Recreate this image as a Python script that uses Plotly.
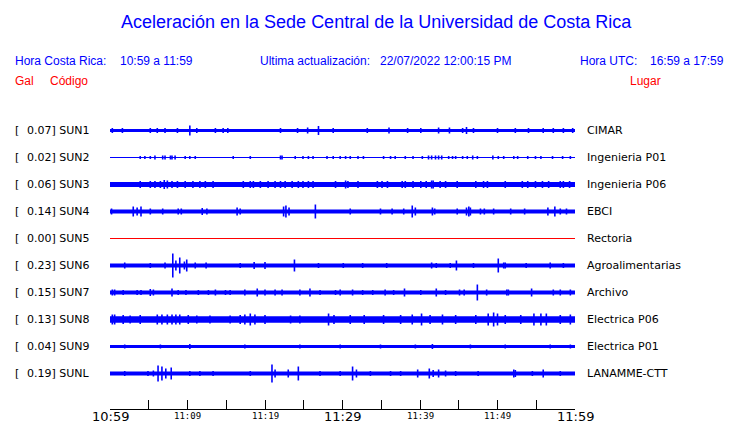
import plotly.graph_objects as go

# estaciones (de arriba hacia abajo)
codigos = ['SUN1', 'SUN2', 'SUN3', 'SUN4', 'SUN5', 'SUN6', 'SUN7', 'SUN8', 'SUN9', 'SUNL']
lugares = ['CIMAR', 'Ingenieria P01', 'Ingenieria P06', 'EBCI', 'Rectoria',
           'Agroalimentarias', 'Archivo', 'Electrica P06', 'Electrica P01', 'LANAMME-CTT']
pico_gal = [0.07, 0.02, 0.06, 0.14, 0.00, 0.23, 0.15, 0.13, 0.04, 0.19]
colores = ['blue', 'blue', 'blue', 'blue', 'red', 'blue', 'blue', 'blue', 'blue', 'blue']

# nivel de ruido de fondo (amplitud aprox., Gal)
ruido = [0.03, 0.008, 0.05, 0.04, 0.0, 0.04, 0.04, 0.065, 0.03, 0.04]

t_sun1 = [0.3, 1.6, 5.2, 6.1, 7.1, 8.7, 10.3, 11.2, 13.6, 14.6, 15.2, 22.0, 24.2, 25.5, 26.9,
          28.8, 33.2, 36.0, 38.4, 40.1, 42.4, 43.8, 45.5, 46.0, 46.9, 50.0, 52.3, 54.0, 55.9,
          57.2, 58.5, 59.7]
a_sun1 = [0.05, 0.05, 0.05, 0.05, 0.05, 0.05, 0.10, 0.05, 0.05, 0.05, 0.05, 0.05, 0.05, 0.06, 0.09,
          0.05, 0.05, 0.06, 0.05, 0.05, 0.06, 0.06, 0.05, 0.07, 0.05, 0.05, 0.05, 0.05, 0.05,
          0.05, 0.05, 0.05]

t_sun2 = [3.9, 4.5, 5.2, 5.8, 6.8, 7.1, 7.8, 8.0, 8.4, 9.7, 10.3, 11.0, 15.9, 18.1, 22.0, 22.2,
          23.9, 24.9, 25.6, 26.2, 28.0, 28.8, 29.7, 30.4, 31.0, 32.0, 32.7, 35.3, 36.2, 36.8,
          38.1, 39.1, 40.3, 41.1, 41.5, 42.0, 42.4, 42.8, 43.7, 44.2, 44.6, 45.5, 46.1, 46.8,
          47.4, 49.4, 50.1, 50.8, 52.1, 52.6, 53.9, 54.9, 55.6, 57.1, 58.4, 59.4]
a_sun2 = [0.03, 0.03, 0.03, 0.04, 0.04, 0.04, 0.04, 0.04, 0.04, 0.03, 0.03, 0.03, 0.03, 0.03, 0.04, 0.04,
          0.03, 0.03, 0.03, 0.03, 0.03, 0.03, 0.03, 0.03, 0.03, 0.03, 0.03, 0.03, 0.03, 0.03,
          0.03, 0.03, 0.03, 0.04, 0.04, 0.04, 0.04, 0.04, 0.03, 0.03, 0.03, 0.03, 0.03, 0.04,
          0.03, 0.04, 0.03, 0.03, 0.03, 0.03, 0.03, 0.03, 0.03, 0.03, 0.03, 0.03]

t_sun3 = [3.9, 5.2, 5.8, 6.5, 7.0, 7.4, 8.0, 8.7, 9.7, 10.7, 11.6, 12.3, 13.3, 17.2, 18.1, 18.5,
          19.4, 20.4, 21.3, 22.0, 22.6, 23.5, 24.3, 24.9, 25.6, 26.2, 29.1, 30.4, 30.7, 32.0,
          34.5, 35.1, 35.8, 37.7, 38.1, 39.1, 40.1, 40.8, 41.5, 41.7, 42.6, 43.3, 44.8, 47.2,
          48.2, 48.7, 51.0, 53.2, 53.9, 54.9, 55.8, 56.6, 58.1, 58.5, 59.3]
a_sun3 = [0.07, 0.07, 0.07, 0.07, 0.09, 0.08, 0.07, 0.07, 0.07, 0.07, 0.07, 0.07, 0.07, 0.07, 0.07, 0.07,
          0.07, 0.07, 0.07, 0.07, 0.07, 0.07, 0.07, 0.07, 0.07, 0.07, 0.07, 0.08, 0.07, 0.07,
          0.07, 0.07, 0.07, 0.07, 0.07, 0.07, 0.07, 0.07, 0.08, 0.08, 0.07, 0.07, 0.07, 0.07,
          0.07, 0.07, 0.07, 0.07, 0.07, 0.07, 0.07, 0.07, 0.07, 0.07, 0.07]

t_sun4 = [0.2, 3.0, 3.5, 4.0, 5.2, 6.8, 8.8, 9.2, 11.9, 12.5, 16.4, 16.8, 22.4, 22.7, 23.1, 26.5,
          31.0, 34.9, 36.4, 37.9, 39.0, 39.4, 41.6, 41.9, 44.8, 46.0, 46.3, 46.5, 47.8, 48.3,
          49.5, 51.7, 53.5, 56.5, 57.4, 58.1, 58.9]
a_sun4 = [0.06, 0.10, 0.08, 0.10, 0.06, 0.06, 0.06, 0.06, 0.07, 0.06, 0.08, 0.06, 0.10, 0.12, 0.08, 0.14,
          0.06, 0.06, 0.06, 0.06, 0.12, 0.08, 0.08, 0.06, 0.06, 0.08, 0.10, 0.08, 0.06, 0.06,
          0.06, 0.06, 0.06, 0.08, 0.10, 0.06, 0.06]

t_sun5 = []
a_sun5 = []

t_sun6 = [1.9, 5.2, 7.1, 8.1, 8.5, 9.0, 9.6, 9.9, 11.0, 12.4, 16.8, 18.6, 20.0, 23.8, 26.9, 30.1,
          32.6, 35.7, 41.5, 42.1, 43.9, 44.7, 46.9, 50.1, 50.8, 51.0, 53.7, 56.8, 58.5]
a_sun6 = [0.06, 0.05, 0.06, 0.24, 0.10, 0.16, 0.08, 0.12, 0.06, 0.06, 0.05, 0.07, 0.07, 0.12, 0.05, 0.05,
          0.05, 0.05, 0.06, 0.05, 0.05, 0.10, 0.05, 0.14, 0.06, 0.06, 0.05, 0.06, 0.05]

t_sun7 = [0.3, 0.6, 1.7, 3.5, 4.0, 5.2, 5.6, 8.0, 8.8, 9.8, 11.4, 12.7, 13.6, 14.9, 15.5, 17.4,
          19.0, 20.0, 21.3, 22.2, 24.5, 25.8, 27.1, 29.1, 29.7, 31.3, 32.6, 33.9, 35.5, 36.6,
          38.0, 40.1, 42.1, 43.3, 45.1, 45.7, 47.4, 48.6, 51.2, 51.4, 54.4, 57.2, 58.1, 59.4]
a_sun7 = [0.06, 0.06, 0.05, 0.05, 0.05, 0.07, 0.06, 0.08, 0.05, 0.05, 0.05, 0.05, 0.06, 0.05, 0.05, 0.06,
          0.08, 0.06, 0.06, 0.06, 0.06, 0.08, 0.05, 0.05, 0.06, 0.06, 0.05, 0.05, 0.06, 0.05,
          0.08, 0.05, 0.08, 0.05, 0.06, 0.06, 0.16, 0.06, 0.06, 0.06, 0.08, 0.06, 0.06, 0.06]

t_sun8 = [0.3, 0.6, 1.7, 2.6, 3.9, 6.1, 6.7, 7.4, 8.0, 8.5, 9.0, 10.1, 11.2, 12.9, 15.5, 16.8,
          17.4, 18.1, 18.7, 20.0, 23.3, 24.5, 28.2, 28.9, 31.0, 32.8, 35.3, 37.5, 39.0, 40.2,
          41.3, 42.9, 44.6, 47.2, 48.8, 49.5, 50.0, 51.0, 53.0, 54.7, 55.6, 56.3, 58.1, 59.4]
a_sun8 = [0.10, 0.10, 0.09, 0.08, 0.09, 0.10, 0.10, 0.10, 0.10, 0.10, 0.10, 0.09, 0.08, 0.08, 0.08, 0.09,
          0.10, 0.12, 0.10, 0.09, 0.08, 0.08, 0.12, 0.09, 0.09, 0.09, 0.09, 0.09, 0.10, 0.12,
          0.09, 0.10, 0.09, 0.09, 0.12, 0.14, 0.12, 0.09, 0.09, 0.12, 0.12, 0.12, 0.09, 0.10]

t_sun9 = [1.9, 6.5, 10.3, 17.4, 24.5, 29.7, 34.9, 39.4, 41.6, 46.5, 51.0, 56.8, 59.4]
a_sun9 = [0.04, 0.04, 0.05, 0.04, 0.04, 0.04, 0.04, 0.04, 0.05, 0.04, 0.04, 0.04, 0.04]

t_sunl = [1.9, 4.9, 5.6, 6.2, 6.7, 7.2, 7.9, 10.3, 11.6, 13.3, 18.1, 20.9, 21.3, 23.0, 24.3, 27.1,
          29.7, 31.3, 31.8, 33.6, 36.2, 37.5, 39.7, 41.2, 41.7, 42.4, 43.3, 44.6, 47.5, 52.1,
          52.3, 54.5, 55.9, 58.1]
a_sunl = [0.05, 0.05, 0.06, 0.16, 0.14, 0.10, 0.12, 0.05, 0.05, 0.05, 0.05, 0.18, 0.08, 0.08, 0.14, 0.05,
          0.05, 0.14, 0.08, 0.05, 0.05, 0.05, 0.08, 0.10, 0.07, 0.08, 0.06, 0.05, 0.05, 0.08,
          0.07, 0.05, 0.08, 0.05]

eventos_t = [t_sun1, t_sun2, t_sun3, t_sun4, t_sun5, t_sun6, t_sun7, t_sun8, t_sun9, t_sunl]
eventos_a = [a_sun1, a_sun2, a_sun3, a_sun4, a_sun5, a_sun6, a_sun7, a_sun8, a_sun9, a_sunl]

minutos = [0, 5, 10, 15, 20, 25, 30, 35, 40, 45, 50, 55, 60]
etiquetas = ['10:59', '', '11:09', '', '11:19', '', '11:29', '', '11:39', '', '11:49', '', '11:59']
etiqueta_grande = ['10:59', '11:29', '11:59']

GANANCIA = 1.85   # filas por Gal
T0, T1 = 0, 60

# geometria en pixeles de pantalla (la pagina agrega 8px de margen)
OFF = 8
W, H = 740 - OFF, 423 - OFF
L, R, T, B = 110, 575, 103, 409
FILA = 27
MEDIO = 0.5 / FILA   # centra las lineas de 1px en una fila de pixeles
PAD = 2              # relleno interno de las anotaciones


def px_x(px):
    return (px - L) / (R - L)


def px_y(py):
    return (B - py) / (B - T)


fig = go.Figure()

for i, cod in enumerate(codigos):
    c = i + 1 + MEDIO
    col = colores[i]
    b = ruido[i] * GANANCIA
    if b > 0:
        fig.add_trace(go.Scatter(
            x=[T0, T1, T1, T0], y=[c - b, c - b, c + b, c + b],
            fill='toself', fillcolor=col, mode='lines', line=dict(width=0),
            hoverinfo='skip', showlegend=False,
        ))
    fig.add_trace(go.Scatter(
        x=[T0, T1], y=[c, c], mode='lines', line=dict(color=col, width=1),
        hoverinfo='skip', showlegend=False,
    ))
    xs, ys = [], []
    for t, a in zip(eventos_t[i], eventos_a[i]):
        xs += [t, t, None]
        ys += [c - a * GANANCIA, c + a * GANANCIA, None]
    if xs:
        fig.add_trace(go.Scatter(
            x=xs, y=ys, mode='lines', line=dict(color=col, width=1.6),
            hoverinfo='skip', showlegend=False,
        ))

ann = []
for i, cod in enumerate(codigos):
    yy = px_y(130 + FILA * i)
    ann.append(dict(x=px_x(15 - PAD), y=yy, text='[', xanchor='left'))
    ann.append(dict(x=px_x(27 - PAD), y=yy, text='%.2f] %s' % (pico_gal[i], cod), xanchor='left'))
    ann.append(dict(x=px_x(587 - PAD), y=yy, text=lugares[i], xanchor='left'))
for a in ann:
    a.update(xref='paper', yref='paper', yanchor='middle', showarrow=False,
             font=dict(family='DejaVu Sans', size=11, color='black'))

# etiquetas del eje de tiempo
for m, lab in zip(minutos, etiquetas):
    if not lab:
        continue
    grande = lab in etiqueta_grande
    ann.append(dict(x=m, xref='x', y=px_y(416), yref='paper', text=lab, showarrow=False,
                    xanchor='center', yanchor='middle',
                    font=dict(family='DejaVu Sans' if grande else 'DejaVu Sans Mono',
                              size=13 if grande else 9, color='black')))

azul = '#0000ff'
rojo = '#ff0000'
encabezado = [
    (15, 61, 'Hora Costa Rica:', azul),
    (120, 61, '10:59 a 11:59', azul),
    (260, 61, 'Ultima actualización:', azul),
    (380, 61, '22/07/2022 12:00:15 PM', azul),
    (580, 61, 'Hora UTC:', azul),
    (650, 61, '16:59 a 17:59', azul),
    (15, 81, 'Gal', rojo),
    (50, 81, 'Código', rojo),
    (630, 81, 'Lugar', rojo),
]
for x0, y0, txt, col in encabezado:
    ann.append(dict(x=px_x(x0 - PAD), y=px_y(y0), xref='paper', yref='paper', text=txt,
                    showarrow=False, xanchor='left', yanchor='middle',
                    font=dict(family='Liberation Sans', size=12, color=col)))

ann.append(dict(x=px_x(376), y=px_y(22), xref='paper', yref='paper',
                text='Aceleración en la Sede Central de la Universidad de Costa Rica',
                showarrow=False, xanchor='center', yanchor='middle',
                font=dict(family='Liberation Sans', size=18, color=azul)))

fig.update_layout(
    width=W, height=H,
    margin=dict(l=L - OFF, r=W - (R - OFF), t=T - OFF, b=H - (B - OFF)),
    plot_bgcolor='white', paper_bgcolor='white',
    annotations=ann,
    showlegend=False,
)
fig.update_xaxes(
    range=[T0, T1], tickvals=minutos, showticklabels=False,
    ticks='inside', ticklen=9, tickcolor='black', tickwidth=1,
    showline=True, linecolor='black', linewidth=1, showgrid=False, zeroline=False,
)
fig.update_yaxes(range=[(B - T) / FILA, 0], visible=False, showgrid=False, zeroline=False)

fig.write_html("out.html")
